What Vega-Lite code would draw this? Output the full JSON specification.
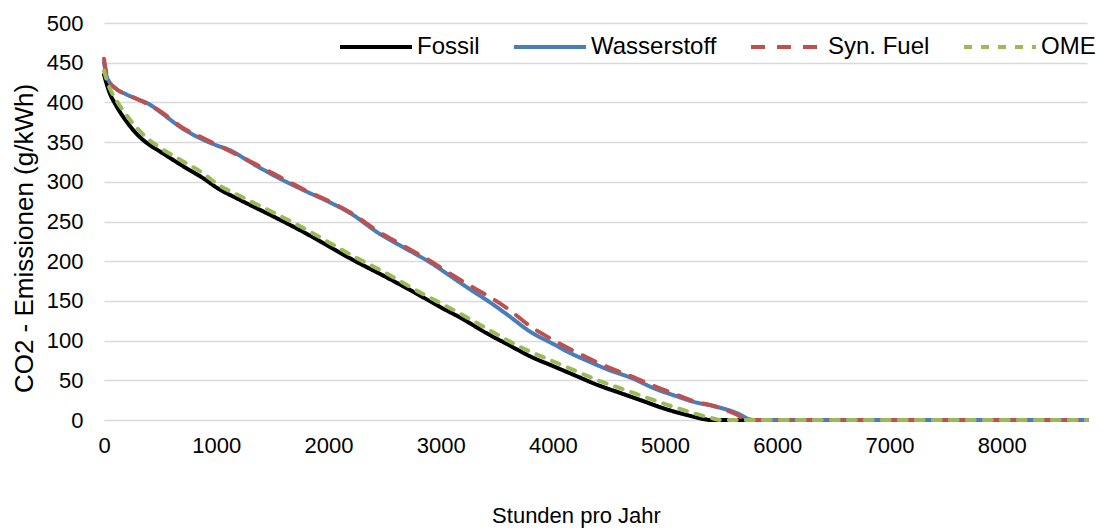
{
  "$schema": "https://vega.github.io/schema/vega-lite/v6.json",
  "width": 983,
  "height": 397,
  "autosize": "none",
  "padding": {"left": 104, "top": 23, "right": 17, "bottom": 110},
  "background": "white",
  "config": {
    "font": "Liberation Sans",
    "view": {"stroke": null}
  },
  "datasets": {
    "d": [
      {"s": "Fossil", "h": 0, "v": 435}, {"s": "Fossil", "h": 20, "v": 425}, {"s": "Fossil", "h": 50, "v": 412}, {"s": "Fossil", "h": 100, "v": 398},
      {"s": "Fossil", "h": 200, "v": 376}, {"s": "Fossil", "h": 300, "v": 359}, {"s": "Fossil", "h": 400, "v": 347}, {"s": "Fossil", "h": 500, "v": 338},
      {"s": "Fossil", "h": 700, "v": 320}, {"s": "Fossil", "h": 900, "v": 303}, {"s": "Fossil", "h": 1000, "v": 293}, {"s": "Fossil", "h": 1200, "v": 278},
      {"s": "Fossil", "h": 1500, "v": 257}, {"s": "Fossil", "h": 1800, "v": 235}, {"s": "Fossil", "h": 2000, "v": 219}, {"s": "Fossil", "h": 2200, "v": 203},
      {"s": "Fossil", "h": 2500, "v": 181}, {"s": "Fossil", "h": 2800, "v": 158}, {"s": "Fossil", "h": 3000, "v": 142}, {"s": "Fossil", "h": 3200, "v": 127},
      {"s": "Fossil", "h": 3400, "v": 110}, {"s": "Fossil", "h": 3600, "v": 95}, {"s": "Fossil", "h": 3800, "v": 80}, {"s": "Fossil", "h": 4000, "v": 68},
      {"s": "Fossil", "h": 4200, "v": 56}, {"s": "Fossil", "h": 4400, "v": 44}, {"s": "Fossil", "h": 4600, "v": 34}, {"s": "Fossil", "h": 4800, "v": 24},
      {"s": "Fossil", "h": 5000, "v": 14}, {"s": "Fossil", "h": 5200, "v": 6}, {"s": "Fossil", "h": 5350, "v": 1}, {"s": "Fossil", "h": 5400, "v": 0},
      {"s": "Fossil", "h": 8760, "v": 0},

      {"s": "Wasserstoff", "h": 0, "v": 450}, {"s": "Wasserstoff", "h": 20, "v": 435}, {"s": "Wasserstoff", "h": 50, "v": 425}, {"s": "Wasserstoff", "h": 100, "v": 418},
      {"s": "Wasserstoff", "h": 200, "v": 410}, {"s": "Wasserstoff", "h": 300, "v": 404}, {"s": "Wasserstoff", "h": 400, "v": 398}, {"s": "Wasserstoff", "h": 500, "v": 388},
      {"s": "Wasserstoff", "h": 700, "v": 367}, {"s": "Wasserstoff", "h": 900, "v": 352}, {"s": "Wasserstoff", "h": 1000, "v": 346}, {"s": "Wasserstoff", "h": 1120, "v": 340},
      {"s": "Wasserstoff", "h": 1300, "v": 325}, {"s": "Wasserstoff", "h": 1500, "v": 309}, {"s": "Wasserstoff", "h": 1800, "v": 288}, {"s": "Wasserstoff", "h": 2000, "v": 275},
      {"s": "Wasserstoff", "h": 2200, "v": 260}, {"s": "Wasserstoff", "h": 2450, "v": 235}, {"s": "Wasserstoff", "h": 2700, "v": 215}, {"s": "Wasserstoff", "h": 2900, "v": 199},
      {"s": "Wasserstoff", "h": 3100, "v": 180}, {"s": "Wasserstoff", "h": 3300, "v": 161}, {"s": "Wasserstoff", "h": 3400, "v": 152}, {"s": "Wasserstoff", "h": 3600, "v": 132},
      {"s": "Wasserstoff", "h": 3800, "v": 111}, {"s": "Wasserstoff", "h": 4000, "v": 96}, {"s": "Wasserstoff", "h": 4130, "v": 86}, {"s": "Wasserstoff", "h": 4300, "v": 75},
      {"s": "Wasserstoff", "h": 4500, "v": 63}, {"s": "Wasserstoff", "h": 4700, "v": 53}, {"s": "Wasserstoff", "h": 4900, "v": 40}, {"s": "Wasserstoff", "h": 5100, "v": 30},
      {"s": "Wasserstoff", "h": 5250, "v": 23}, {"s": "Wasserstoff", "h": 5450, "v": 17}, {"s": "Wasserstoff", "h": 5550, "v": 13}, {"s": "Wasserstoff", "h": 5650, "v": 8},
      {"s": "Wasserstoff", "h": 5750, "v": 1}, {"s": "Wasserstoff", "h": 5800, "v": 0}, {"s": "Wasserstoff", "h": 8760, "v": 0},

      {"s": "Syn. Fuel", "h": 0, "v": 455}, {"s": "Syn. Fuel", "h": 20, "v": 438}, {"s": "Syn. Fuel", "h": 50, "v": 426}, {"s": "Syn. Fuel", "h": 100, "v": 418},
      {"s": "Syn. Fuel", "h": 200, "v": 410}, {"s": "Syn. Fuel", "h": 300, "v": 404}, {"s": "Syn. Fuel", "h": 400, "v": 397}, {"s": "Syn. Fuel", "h": 500, "v": 389},
      {"s": "Syn. Fuel", "h": 700, "v": 368}, {"s": "Syn. Fuel", "h": 900, "v": 354}, {"s": "Syn. Fuel", "h": 1000, "v": 347}, {"s": "Syn. Fuel", "h": 1300, "v": 326},
      {"s": "Syn. Fuel", "h": 1500, "v": 311}, {"s": "Syn. Fuel", "h": 1800, "v": 289}, {"s": "Syn. Fuel", "h": 2000, "v": 276}, {"s": "Syn. Fuel", "h": 2200, "v": 261},
      {"s": "Syn. Fuel", "h": 2450, "v": 237}, {"s": "Syn. Fuel", "h": 2700, "v": 217}, {"s": "Syn. Fuel", "h": 2900, "v": 201}, {"s": "Syn. Fuel", "h": 3100, "v": 183},
      {"s": "Syn. Fuel", "h": 3300, "v": 166}, {"s": "Syn. Fuel", "h": 3400, "v": 158}, {"s": "Syn. Fuel", "h": 3600, "v": 140}, {"s": "Syn. Fuel", "h": 3800, "v": 118},
      {"s": "Syn. Fuel", "h": 4000, "v": 101}, {"s": "Syn. Fuel", "h": 4130, "v": 91}, {"s": "Syn. Fuel", "h": 4300, "v": 79}, {"s": "Syn. Fuel", "h": 4500, "v": 66},
      {"s": "Syn. Fuel", "h": 4700, "v": 55}, {"s": "Syn. Fuel", "h": 4900, "v": 43}, {"s": "Syn. Fuel", "h": 5100, "v": 32}, {"s": "Syn. Fuel", "h": 5250, "v": 24},
      {"s": "Syn. Fuel", "h": 5450, "v": 17}, {"s": "Syn. Fuel", "h": 5550, "v": 12}, {"s": "Syn. Fuel", "h": 5650, "v": 6}, {"s": "Syn. Fuel", "h": 5720, "v": 0},
      {"s": "Syn. Fuel", "h": 8760, "v": 0},

      {"s": "OME", "h": 0, "v": 440}, {"s": "OME", "h": 20, "v": 430}, {"s": "OME", "h": 50, "v": 418}, {"s": "OME", "h": 100, "v": 405},
      {"s": "OME", "h": 200, "v": 384}, {"s": "OME", "h": 300, "v": 367}, {"s": "OME", "h": 400, "v": 353}, {"s": "OME", "h": 500, "v": 343},
      {"s": "OME", "h": 700, "v": 326}, {"s": "OME", "h": 900, "v": 309}, {"s": "OME", "h": 1000, "v": 298}, {"s": "OME", "h": 1200, "v": 283},
      {"s": "OME", "h": 1500, "v": 262}, {"s": "OME", "h": 1800, "v": 240}, {"s": "OME", "h": 2000, "v": 224}, {"s": "OME", "h": 2200, "v": 208},
      {"s": "OME", "h": 2500, "v": 186}, {"s": "OME", "h": 2800, "v": 162}, {"s": "OME", "h": 3000, "v": 147}, {"s": "OME", "h": 3200, "v": 132},
      {"s": "OME", "h": 3400, "v": 116}, {"s": "OME", "h": 3600, "v": 100}, {"s": "OME", "h": 3800, "v": 86}, {"s": "OME", "h": 4000, "v": 74},
      {"s": "OME", "h": 4200, "v": 62}, {"s": "OME", "h": 4400, "v": 50}, {"s": "OME", "h": 4600, "v": 40}, {"s": "OME", "h": 4800, "v": 30},
      {"s": "OME", "h": 5000, "v": 20}, {"s": "OME", "h": 5200, "v": 11}, {"s": "OME", "h": 5400, "v": 3}, {"s": "OME", "h": 5500, "v": 0},
      {"s": "OME", "h": 8760, "v": 0}
    ]
  },
  "data": {"name": "d"},
  "mark": {"type": "line", "strokeWidth": 4, "strokeCap": "round", "strokeJoin": "round", "interpolate": "monotone"},
  "encoding": {
    "x": {
      "field": "h", "type": "quantitative",
      "scale": {"domain": [0, 8760], "nice": false, "zero": false},
      "axis": {
        "values": [0, 1000, 2000, 3000, 4000, 5000, 6000, 7000, 8000],
        "format": "d",
        "title": "Stunden pro Jahr",
        "grid": false, "domain": false, "ticks": false,
        "labelFontSize": 22, "labelColor": "#000000", "labelPadding": 15, "labelFlush": false,
        "titleFontSize": 22, "titleFontWeight": "normal", "titleColor": "#000000",
        "titleX": 472, "titleY": 102, "titleBaseline": "alphabetic", "titleAlign": "center"
      }
    },
    "y": {
      "field": "v", "type": "quantitative",
      "scale": {"domain": [0, 500], "nice": false},
      "axis": {
        "values": [0, 50, 100, 150, 200, 250, 300, 350, 400, 450, 500],
        "format": "d",
        "title": "CO2 - Emissionen (g/kWh)",
        "grid": true, "gridColor": "#D9D9D9", "gridWidth": 1.5,
        "domain": false, "ticks": false,
        "labelFontSize": 22, "labelColor": "#000000", "labelPadding": 21,
        "titleFontSize": 26, "titleFontWeight": "normal", "titleColor": "#000000",
        "titleX": -72, "titleY": 215, "titleAngle": -90, "titleBaseline": "alphabetic", "titleAlign": "center"
      }
    },
    "color": {
      "field": "s", "type": "nominal",
      "scale": {"domain": ["Fossil", "Wasserstoff", "Syn. Fuel", "OME"], "range": ["#000000", "#4A7EBB", "#C0504D", "#9BBB59"]},
      "legend": {
        "title": null, "orient": "none", "direction": "horizontal",
        "legendX": 234, "legendY": -14,
        "symbolType": "stroke", "symbolSize": 5184, "symbolStrokeWidth": 4,
        "labelFontSize": 24, "labelColor": "#000000", "labelOffset": 3, "columnPadding": 26
      }
    },
    "strokeDash": {
      "field": "s", "type": "nominal",
      "scale": {"domain": ["Fossil", "Wasserstoff", "Syn. Fuel", "OME"], "range": [[1, 0], [1, 0], [14, 12], [8, 9]]},
      "legend": null
    }
  }
}
